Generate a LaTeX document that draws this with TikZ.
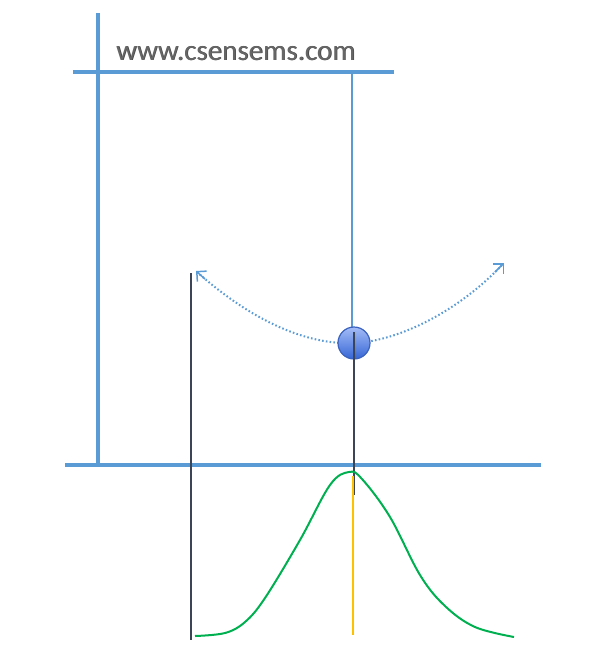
\documentclass[tikz,border=0pt]{standalone}
\usepackage{fontspec}
\newfontfamily\webfont{Carlito}
\usepackage{tikz}
\usetikzlibrary{
  positioning,
  arrows.meta,
  calc
}
\definecolor{frameblue}{HTML}{5B9BD5}
\definecolor{rodgray}{HTML}{3B4556}
\definecolor{curvegreen}{HTML}{00B050}
\definecolor{axisorange}{HTML}{FFC000}
\definecolor{balltop}{HTML}{A4BCF7}
\definecolor{ballbot}{HTML}{3566D6}
\definecolor{ballrim}{HTML}{3A62BE}

\begin{document}
\begin{tikzpicture}[
  x=1pt, y=-1pt,
  >={Straight Barb[length=7pt,width=14pt,line width=1.5pt]},
  every node/.style={inner sep=1pt}
]
  \useasboundingbox (0,0) rectangle (593,670);
  % 支架
  \draw[frameblue, line width=3.5pt] (98,13) -- (98,466);
  \draw[frameblue, line width=3.5pt] (73,72) -- (394,72);
  \draw[frameblue, line width=3.5pt] (65,465) -- (541,465);
  \node[anchor=base west, text=gray!50!black, font=\webfont\fontsize{29}{32}\selectfont]
    at (115.6,60.6) {www.csensems.com};
  \node[anchor=base west, text=gray!80!black, font=\webfont\fontsize{29}{32}\selectfont]
    (site) at (115,60) {www.csensems.com};
  % 摆线与摆球
  \coordinate (pivot) at (352,72);
  \coordinate (bob) at (354,343);
  \draw[frameblue, line width=1.8pt] (pivot) -- (352,330);
  \draw[frameblue, line width=2pt, dash pattern=on 1.6pt off 2.2pt]
    (197,272) .. controls (260,328) and (315,345) .. (354,343)
    .. controls (400,341) and (460,310) .. (503,264);
  \draw[frameblue, line width=1.5pt, ->] (205,279) -- (196,271);
  \draw[frameblue, line width=1.5pt, ->] (495,272) -- (504,263);
  \shade[top color=balltop, bottom color=ballbot, draw=ballrim, line width=1.2pt]
    (bob) circle (16);
  \draw[rodgray, line width=2.2pt] (354,332) -- (354,495);
  \draw[rodgray, line width=2.2pt] (191,273) -- (191,640);
  % 分布曲线
  \draw[axisorange, line width=1.8pt] (353,476) -- (353,635);
  \draw[curvegreen, line width=2pt] plot[smooth, tension=0.6] coordinates {
    (195,636) (225,633) (245,622) (265,598) (300,540) (330,485)
    (349,472) (362,479) (390,517) (420,575) (445,606) (475,627) (514,637)};
\end{tikzpicture}
\end{document}
